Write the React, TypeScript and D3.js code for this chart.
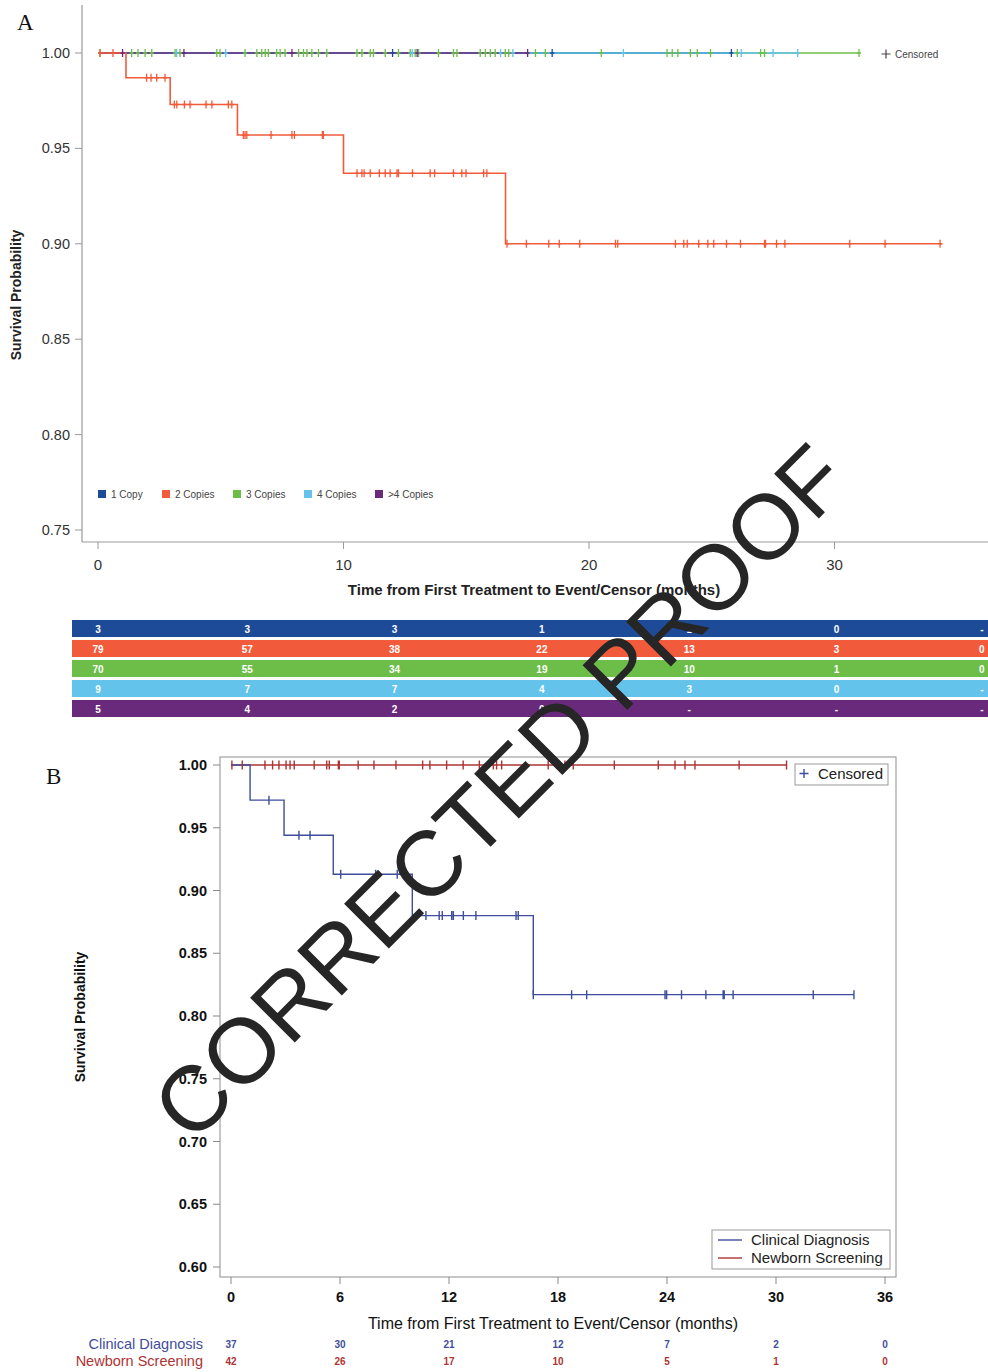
import React from 'react';
import * as d3 from 'd3';

// ---------- Panel A: copy-number groups ----------
const copyGroups = ['1 Copy', '2 Copies', '3 Copies', '4 Copies', '>4 Copies'];
const copyColors = ['#1d4b98', '#f15b3b', '#6cbe48', '#63c3ea', '#6a2a7c'];

// step curve of 2 Copies (the only group with events)
const twoCopyStepTimes = [0, 1.14, 2.94, 5.68, 10.0, 16.6];
const twoCopySurvival = [1, 0.987, 0.973, 0.957, 0.937, 0.9];

// last follow-up time per group (curves of other groups stay at 1.0)
const copyEndTimes = [25.8, 34.4, 31.0, 28.5, 17.5];

const oneCopyCensor = [12.0, 18.5, 25.8];
const twoCopyCensor = [
  0.08, 0.61,
  1.98, 2.16, 2.39, 2.73,
  3.11, 3.21, 3.52, 3.75, 4.4, 4.64, 5.31, 5.45,
  5.92, 5.99, 6.06, 7.05, 7.9, 8.0, 9.14, 9.18,
  10.55, 10.75, 10.84, 11.09, 11.46, 11.7, 11.9, 12.18, 12.24, 12.81, 13.53, 13.71, 14.48, 14.82, 14.99, 15.71, 15.84,
  16.66, 17.45, 18.36, 18.79, 19.62, 21.08, 21.17, 23.52, 23.86, 24.0, 24.47, 24.84, 25.08, 25.6, 26.17, 27.15, 27.19,
  27.64, 27.98, 30.62, 32.06, 34.3,
];
const threeCopyCensor = [
  0.08, 1.37, 1.63, 1.92, 2.19, 3.14, 3.34, 4.84, 4.97, 5.99, 6.47, 6.67, 6.81, 6.94, 7.28, 7.42, 7.62, 8.17, 8.37,
  8.51, 8.71, 8.98, 9.32, 10.55, 10.75, 11.09, 11.22, 11.7, 12.24, 12.72, 12.92, 13.06, 13.87, 14.48, 14.62, 15.57,
  15.78, 15.98, 16.18, 16.59, 16.73, 17.82, 18.22, 20.5, 23.18, 23.39, 23.62, 24.13, 24.41, 24.95, 26.04, 26.99,
  27.15, 31.0,
];
const fourCopyCensor = [3.2, 5.2, 12.8, 16.4, 16.9, 21.4, 26.2, 27.5, 28.5];
const moreCopyCensor = [1.0, 3.5, 7.9, 13.0, 17.5];

const copyAxisTicks = [0, 10, 20, 30];

// number at risk (table under panel A)
const riskTimes = [0, 6, 12, 18, 24, 30, 36];
const oneCopyRisk = ['3', '3', '3', '1', '1', '0', '-'];
const twoCopyRisk = ['79', '57', '38', '22', '13', '3', '0'];
const threeCopyRisk = ['70', '55', '34', '19', '10', '1', '0'];
const fourCopyRisk = ['9', '7', '7', '4', '3', '0', '-'];
const moreCopyRisk = ['5', '4', '2', '0', '-', '-', '-'];

// ---------- Panel B: clinical diagnosis vs newborn screening ----------
const cohortNames = ['Clinical Diagnosis', 'Newborn Screening'];
const cohortColors = ['#3f4d9c', '#ad3434'];

const clinicalStepTimes = [0, 1.05, 2.92, 5.63, 9.98, 16.64];
const clinicalSurvival = [1, 0.972, 0.944, 0.913, 0.88, 0.817];
const clinicalEnd = 34.29;
const clinicalCensor = [
  2.09, 3.74, 4.35, 6.04, 7.96, 9.15, 10.73, 11.46, 11.63, 12.15, 12.24, 12.79, 13.48, 15.69, 15.81, 16.64, 18.75,
  19.58, 23.89, 23.98, 24.8, 26.14, 27.09, 27.15, 27.64, 32.05, 34.29,
];
const newbornEnd = 30.6;
const newbornCensor = [
  0.05, 0.62, 1.87, 2.29, 2.64, 3.03, 3.25, 3.48, 4.58, 5.27, 5.41, 5.91, 5.96, 7.0, 7.87, 9.08, 10.55, 10.95, 11.87,
  12.78, 13.67, 14.44, 14.62, 14.9, 17.46, 18.38, 18.84, 21.1, 23.52, 24.44, 24.99, 25.54, 27.97, 30.58,
];
const cohortAxisTicks = [0, 6, 12, 18, 24, 30, 36];
const clinicalRisk = [37, 30, 21, 12, 7, 2, 0];
const newbornRisk = [42, 26, 17, 10, 5, 1, 0];

const FONT = '"Liberation Sans", Arial, Helvetica, sans-serif';
const SERIF = '"Liberation Serif", "Times New Roman", serif';

const survAt = (times: number[], surv: number[], t: number) =>
  surv[Math.max(0, d3.bisectRight(times, t) - 1)];

const stepPoints = (times: number[], surv: number[], end: number): [number, number][] => [
  ...times.map((t, i) => [t, surv[i]] as [number, number]),
  [end, surv[surv.length - 1]],
];

const plus = (x: number, y: number, h: number, w: number) =>
  `M${x},${y - h}V${y + h}M${x - w},${y}H${x + w}`;

export default function App() {
  const W = 988;
  const H = 1372;

  // ---- scales A ----
  const xA = d3.scaleLinear().domain([0, 36]).range([98, 98 + 24.55 * 36]);
  const yA = d3.scaleLinear().domain([0.75, 1.0]).range([530, 53]);
  const lineA = d3
    .line<[number, number]>()
    .x((d) => xA(d[0]))
    .y((d) => yA(d[1]))
    .curve(d3.curveStepAfter);

  const flat = (end: number) => stepPoints([0], [1], end);
  const copyCurves = [
    flat(copyEndTimes[0]),
    stepPoints(twoCopyStepTimes, twoCopySurvival, copyEndTimes[1]),
    flat(copyEndTimes[2]),
    flat(copyEndTimes[3]),
    flat(copyEndTimes[4]),
  ];
  const copyCensors = [oneCopyCensor, twoCopyCensor, threeCopyCensor, fourCopyCensor, moreCopyCensor];
  const copyRisk = [oneCopyRisk, twoCopyRisk, threeCopyRisk, fourCopyRisk, moreCopyRisk];
  const drawOrder = [2, 0, 3, 4, 1];
  const levelA = (g: number, t: number) =>
    g === 1 ? survAt(twoCopyStepTimes, twoCopySurvival, t) : 1;

  // ---- scales B ----
  const xB = d3.scaleLinear().domain([0, 36]).range([231, 885]);
  const yB = d3.scaleLinear().domain([0.6, 1.0]).range([1267, 765]);
  const lineB = d3
    .line<[number, number]>()
    .x((d) => xB(d[0]))
    .y((d) => yB(d[1]))
    .curve(d3.curveStepAfter);
  const clinicalCurve = stepPoints(clinicalStepTimes, clinicalSurvival, clinicalEnd);
  const newbornCurve = stepPoints([0], [1], newbornEnd);
  const fmt2 = d3.format('.2f');

  return (
    <svg
      width={W}
      height={H}
      style={{ position: 'absolute', left: 0, top: 0, display: 'block', background: '#fff' }}
      fontFamily={FONT}
    >
      <rect width={W} height={H} fill="#fff" />

      {/* ================= Panel A ================= */}
      <text x={17} y={30} fontFamily={SERIF} fontSize={23} fill="#111">A</text>

      {/* axes */}
      <line x1={82} x2={82} y1={5} y2={542} stroke="#9a9a9a" strokeWidth={1.2} />
      <line x1={82} x2={988} y1={542} y2={542} stroke="#9a9a9a" strokeWidth={1.2} />
      {yA.ticks(5).map((v) => (
        <g key={v}>
          <line x1={75} x2={82} y1={yA(v)} y2={yA(v)} stroke="#9a9a9a" />
          <text x={70} y={yA(v) + 5} textAnchor="end" fontSize={14.5} fill="#333">{fmt2(v)}</text>
        </g>
      ))}
      {copyAxisTicks.map((t) => (
        <g key={t}>
          <line x1={xA(t)} x2={xA(t)} y1={542} y2={549} stroke="#9a9a9a" />
          <text x={xA(t)} y={570} textAnchor="middle" fontSize={15} fill="#333">{t}</text>
        </g>
      ))}
      <text x={534} y={595} textAnchor="middle" fontSize={15} fontWeight="bold" fill="#222">
        Time from First Treatment to Event/Censor (months)
      </text>
      <text transform="translate(21,295) rotate(-90)" textAnchor="middle" fontSize={14} fontWeight="bold" fill="#222">
        Survival Probability
      </text>

      {/* curves */}
      {drawOrder.map((g) => (
        <path key={g} d={lineA(copyCurves[g]) || ''} fill="none" stroke={copyColors[g]} strokeWidth={1.6} />
      ))}
      {drawOrder.map((g) => (
        <path
          key={'c' + g}
          d={copyCensors[g].map((t) => plus(xA(t), yA(levelA(g, t)), 4, 2)).join('')}
          fill="none"
          stroke={copyColors[g]}
          strokeWidth={1.3}
        />
      ))}

      {/* censored key */}
      <path d={plus(886, 54, 4.5, 4.5)} stroke="#444" strokeWidth={1.2} />
      <text x={895} y={58} fontSize={10} fill="#444">Censored</text>

      {/* group legend */}
      {copyGroups.map((name, i) => {
        const lx = [98, 162, 233, 304, 375][i];
        return (
          <g key={name}>
            <rect x={lx} y={490} width={8} height={8} fill={copyColors[i]} />
            <text x={lx + 13} y={498} fontSize={10} fill="#444">{name}</text>
          </g>
        );
      })}

      {/* number at risk */}
      {copyRisk.map((row, r) => (
        <g key={'risk' + r}>
          <rect x={72} y={620 + r * 20} width={916} height={17} fill={copyColors[r]} />
          {row.map((v, i) => (
            <text
              key={i}
              x={xA(riskTimes[i]) + (i > 0 && i < 6 ? 2 : 0)}
              y={620 + r * 20 + 12.5}
              textAnchor="middle"
              fontSize={10}
              fontWeight="bold"
              fill="#fff"
            >
              {v}
            </text>
          ))}
        </g>
      ))}

      {/* ================= Panel B ================= */}
      <text x={46} y={784} fontFamily={SERIF} fontSize={23} fill="#111">B</text>

      <rect x={220} y={757} width={676} height={520} fill="none" stroke="#a0a0a0" strokeWidth={1.2} />
      {yB.ticks(8).map((v) => (
        <g key={'yb' + v}>
          <line x1={213} x2={220} y1={yB(v)} y2={yB(v)} stroke="#888" />
          <text x={207} y={yB(v) + 5} textAnchor="end" fontSize={14.5} fontWeight="bold" fill="#111">{fmt2(v)}</text>
        </g>
      ))}
      {cohortAxisTicks.map((t) => (
        <g key={'xb' + t}>
          <line x1={xB(t)} x2={xB(t)} y1={1277} y2={1284} stroke="#888" />
          <text x={xB(t)} y={1302} textAnchor="middle" fontSize={14.5} fontWeight="bold" fill="#111">{t}</text>
        </g>
      ))}
      <text x={553} y={1329} textAnchor="middle" fontSize={16} fill="#111">
        Time from First Treatment to Event/Censor (months)
      </text>
      <text transform="translate(85,1017) rotate(-90)" textAnchor="middle" fontSize={14} fontWeight="bold" fill="#111">
        Survival Probability
      </text>

      <path d={lineB(newbornCurve) || ''} fill="none" stroke={cohortColors[1]} strokeWidth={1.4} />
      <path d={lineB(clinicalCurve) || ''} fill="none" stroke={cohortColors[0]} strokeWidth={1.4} />
      <path
        d={newbornCensor.map((t) => plus(xB(t), yB(1), 4.5, 0)).join('')}
        fill="none"
        stroke={cohortColors[1]}
        strokeWidth={1.4}
      />
      <path
        d={clinicalCensor
          .map((t) => plus(xB(t), yB(survAt(clinicalStepTimes, clinicalSurvival, t)), 4.5, 0))
          .join('')}
        fill="none"
        stroke={cohortColors[0]}
        strokeWidth={1.4}
      />

      {/* censored key */}
      <rect x={795} y={764} width={93} height={21} fill="#fff" stroke="#999" />
      <path d={plus(804, 773.5, 4.5, 4.5)} stroke={cohortColors[0]} strokeWidth={1.4} />
      <text x={818} y={779} fontSize={15} fill="#222">Censored</text>

      {/* group legend */}
      <rect x={712} y={1230} width={178} height={39} fill="#fff" stroke="#999" />
      {cohortNames.map((name, i) => (
        <g key={name}>
          <line x1={718} x2={742} y1={1240 + i * 18} y2={1240 + i * 18} stroke={cohortColors[i]} strokeWidth={1.4} />
          <text x={751} y={1245 + i * 18} fontSize={15} fill="#222">{name}</text>
        </g>
      ))}

      {/* number at risk */}
      {[clinicalRisk, newbornRisk].map((row, r) => (
        <g key={'rb' + r}>
          <text x={203} y={1349 + r * 17} textAnchor="end" fontSize={14.5} fill={cohortColors[r]}>
            {cohortNames[r]}
          </text>
          {row.map((v, i) => (
            <text
              key={i}
              x={xB(riskTimes[i])}
              y={1348 + r * 17}
              textAnchor="middle"
              fontSize={10}
              fontWeight="bold"
              fill={cohortColors[r]}
            >
              {v}
            </text>
          ))}
        </g>
      ))}

      {/* watermark */}
      <text
        transform="translate(500,792) rotate(-45)"
        textAnchor="middle"
        dominantBaseline="central"
        fontSize={92}
        fill="#262626"
      >
        CORRECTED PROOF
      </text>
    </svg>
  );
}
